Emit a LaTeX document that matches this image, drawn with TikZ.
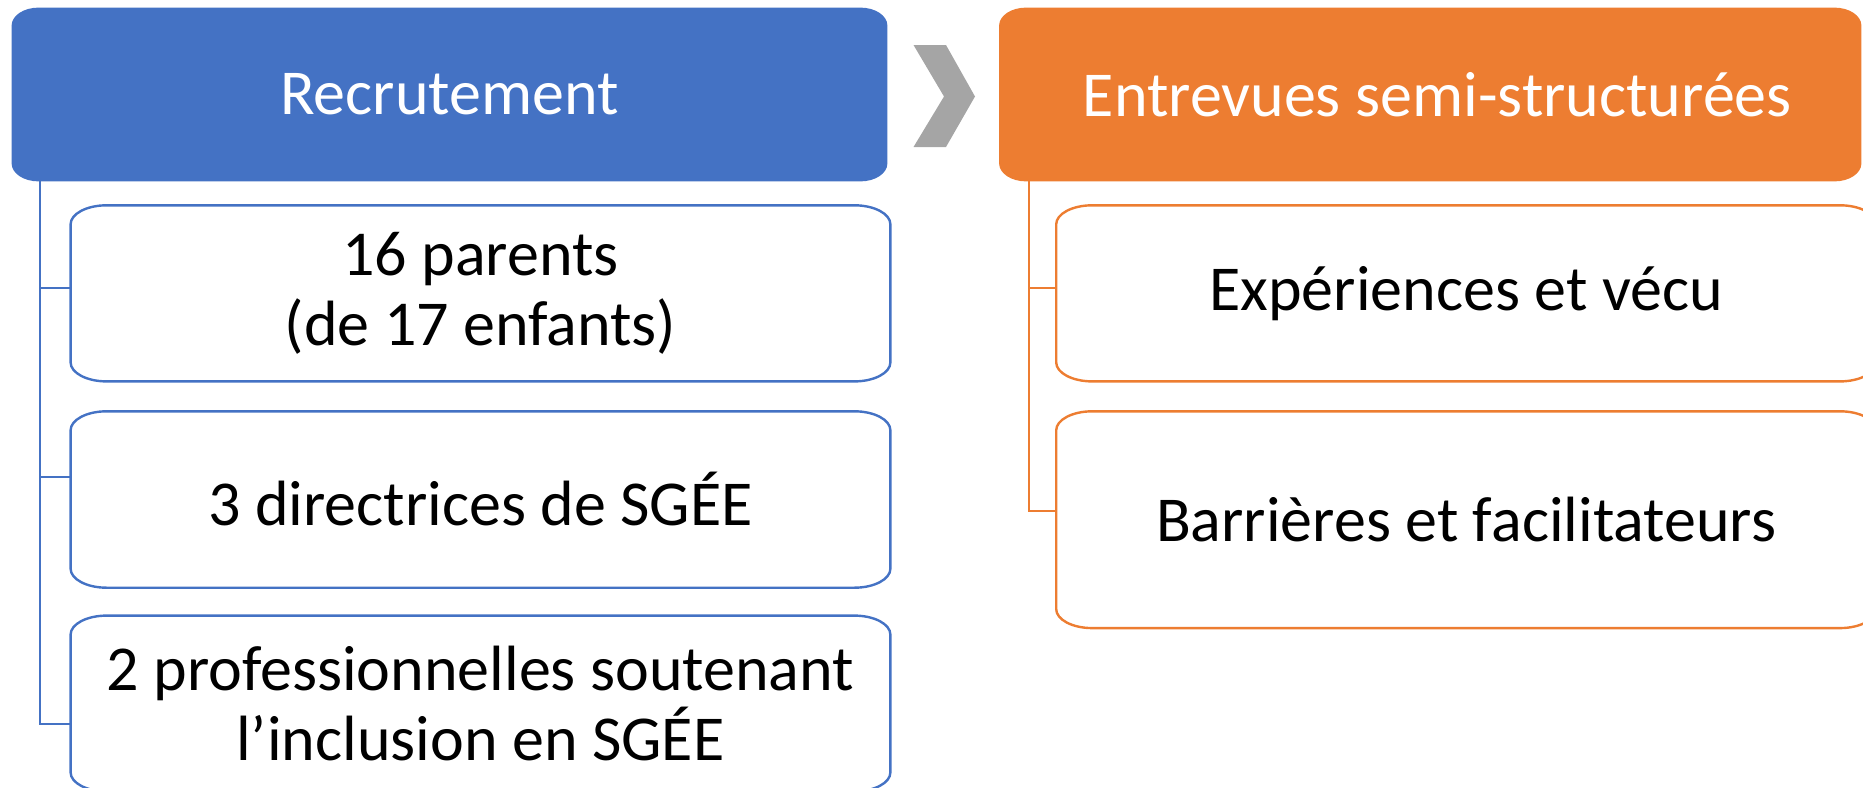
\documentclass[tikz,border=0pt]{standalone}
\usepackage{fontspec}
\setmainfont{Carlito}
\usetikzlibrary{backgrounds}
\definecolor{cblue}{HTML}{4472C4}
\definecolor{corange}{HTML}{ED7D31}
\definecolor{cgray}{HTML}{A5A5A5}
\newcommand\ellrect[4]{%
 \path[#1] ([xshift=#3]#2.north west) -- ([xshift=-#3]#2.north east)
   arc[start angle=90,end angle=0,x radius=#3,y radius=#4]
   -- ([yshift=#4]#2.south east)
   arc[start angle=0,end angle=-90,x radius=#3,y radius=#4]
   -- ([xshift=#3]#2.south west)
   arc[start angle=270,end angle=180,x radius=#3,y radius=#4]
   -- ([yshift=-#4]#2.north west)
   arc[start angle=180,end angle=90,x radius=#3,y radius=#4]
   -- cycle;}
\begin{document}
\begin{tikzpicture}[x=0.5pt,y=0.5pt,
  boxnode/.style={inner sep=0pt, align=center, font=\fontsize{32pt}{35pt}\selectfont},
  headnode/.style={boxnode, text=white, minimum height=86.5pt},
  childnode/.style={boxnode, text=black, minimum width=409.5pt},
  hbfill/.style={fill=cblue},
  hofill/.style={fill=corange},
  cbline/.style={draw=cblue, line width=1.2pt, fill=white},
  coline/.style={draw=corange, line width=1.2pt, fill=white},
  conb/.style={draw=cblue, line width=1pt},
  cono/.style={draw=corange, line width=1pt}]
\useasboundingbox (0,0) rectangle (1863,-787);
% headers
\node[headnode, minimum width=437.5pt] (hb) at (449.5,-94.5) {Recrutement};
\node[headnode, minimum width=430.75pt] (ho) at (1430.25,-94.5) {\hspace*{7pt}Entrevues semi-structurées};
% children
\node[childnode, minimum height=87.65pt] (b1) at (480.5,-293.35) {16 parents\\(de 17 enfants)};
\node[childnode, minimum height=87.8pt] (b2) at (480.5,-499.5) {3 directrices de SGÉE};
\node[childnode, minimum height=87.5pt] (b3) at (480.5,-703.5) {2 professionnelles soutenant\\l’inclusion en SGÉE};
\node[childnode, minimum height=87.65pt] (o1) at (1466.1,-293.35) {Expériences et vécu};
\node[childnode, minimum height=108pt] (o2) at (1466.1,-519.7) {Barrières et facilitateurs};
\begin{scope}[on background layer]
\ellrect{hbfill}{hb}{13.5pt}{9pt}
\ellrect{hofill}{ho}{13.5pt}{9pt}
\ellrect{cbline}{b1}{18pt}{9.5pt}
\ellrect{cbline}{b2}{18pt}{9.5pt}
\ellrect{cbline}{b3}{18pt}{9.5pt}
\ellrect{coline}{o1}{18pt}{9.5pt}
\ellrect{coline}{o2}{18pt}{9.5pt}
\end{scope}
% chevron
\fill[cgray] (913.5,-45) -- (946,-45) -- (975,-96.5) -- (946,-147) -- (913.5,-147) -- (944,-96.5) -- cycle;
% connectors blue
\coordinate (vb) at ([xshift=14.25pt]hb.south west);
\coordinate (tb1) at ([yshift=2.7pt]b1.west);
\coordinate (tb2) at ([yshift=11.4pt]b2.west);
\coordinate (tb3) at ([yshift=-10.4pt]b3.west);
\draw[conb] (vb) |- (tb3);
\draw[conb] (tb1) -- (tb1 -| vb);
\draw[conb] (tb2) -- (tb2 -| vb);
% connectors orange
\coordinate (vo) at ([xshift=14.75pt]ho.south west);
\coordinate (to1) at ([yshift=2.7pt]o1.west);
\coordinate (to2) at ([yshift=4.5pt]o2.west);
\draw[cono] (vo) |- (to2);
\draw[cono] (to1) -- (to1 -| vo);
\end{tikzpicture}
\end{document}
